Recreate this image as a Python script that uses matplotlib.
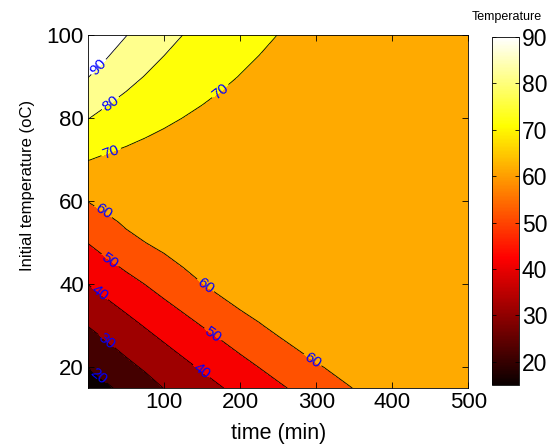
import matplotlib
matplotlib.use("Agg")
import matplotlib.pyplot as plt
import numpy as np

plt.rcParams['font.family'] = ['Liberation Sans', 'DejaVu Sans']

# time axis (min) and initial temperature axis (oC)
times = [0, 25, 50, 75, 100, 125, 150, 175, 200, 225, 250, 300, 350, 400, 450, 500]
init_temps = [15, 20, 30, 40, 50, 55, 60, 70, 80, 90, 100]

# temperature, one row per initial temperature
temp_15 = [15.0, 18.8, 22.6, 26.4, 30.2, 33.4, 36.5, 39.6, 42.6, 45.6, 48.6, 54.5, 60.3, 66.0, 68.0, 68.0]
temp_20 = [20.1, 23.9, 27.7, 31.1, 34.5, 37.8, 41.0, 44.0, 47.1, 50.1, 53.1, 59.0, 64.0, 68.0, 68.0, 68.0]
temp_30 = [30.2, 33.7, 37.1, 40.5, 43.8, 47.0, 50.2, 53.2, 56.3, 59.3, 62.3, 68.0, 68.0, 68.0, 68.0, 68.0]
temp_40 = [40.1, 43.5, 46.8, 50.1, 53.4, 56.6, 59.8, 62.9, 66.0, 68.0, 68.0, 68.0, 68.0, 68.0, 68.0, 68.0]
temp_50 = [50.2, 53.9, 57.5, 59.9, 62.3, 65.0, 68.0, 68.0, 68.0, 68.0, 68.0, 68.0, 68.0, 68.0, 68.0, 68.0]
temp_55 = [55.1, 58.2, 61.3, 64.0, 67.0, 68.0, 68.0, 68.0, 68.0, 68.0, 68.0, 68.0, 68.0, 68.0, 68.0, 68.0]
temp_60 = [60.2, 63.0, 66.0, 68.0, 68.0, 68.0, 68.0, 68.0, 68.0, 68.0, 68.0, 68.0, 68.0, 68.0, 68.0, 68.0]
temp_70 = [70.2, 68.7, 67.6, 66.6, 65.7, 65.0, 64.3, 63.8, 63.3, 62.8, 62.5, 61.9, 61.4, 61.1, 60.8, 60.6]
temp_80 = [80.2, 77.4, 75.1, 73.1, 71.4, 69.9, 68.6, 67.5, 66.5, 65.7, 64.9, 63.7, 62.8, 62.1, 61.6, 61.2]
temp_90 = [90.2, 86.1, 82.7, 79.7, 77.1, 74.9, 73.0, 71.3, 69.8, 68.5, 67.4, 65.6, 64.2, 63.2, 62.4, 61.8]
temp_100 = [100.0, 94.8, 90.2, 86.3, 82.8, 79.9, 77.3, 75.0, 73.0, 71.4, 69.9, 67.4, 65.6, 64.2, 63.2, 62.4]

line_levels = [20, 30, 40, 50, 60, 70, 80, 90]
cbar_ticks = [20, 30, 40, 50, 60, 70, 80, 90]

# where the contour labels sit
label_pos = [(18, 91.6), (33, 82.7), (178, 85.5), (32, 71), (18, 57),
             (158, 40.7), (295, 21.7), (27, 45.3), (165, 28.2), (13, 37.3),
             (150, 19.3), (22, 25.8), (12, 17.4)]

temps = np.array([temp_15, temp_20, temp_30, temp_40, temp_50, temp_55,
                  temp_60, temp_70, temp_80, temp_90, temp_100])

norm = matplotlib.colors.Normalize(vmin=15, vmax=90)
cmap = plt.cm.hot
fill_levels = [0] + line_levels + [200]
# matlab style: each band takes the colour just above its lower level
band_shift = 1.5
fill_colors = [cmap(norm(15))] + [cmap(norm(l + band_shift)) for l in line_levels]

fig = plt.figure(figsize=(5.51, 4.45), dpi=100)
ax = fig.add_axes([0.16, 0.128, 0.69, 0.793])

ax.contourf(times, init_temps, temps, levels=fill_levels, colors=fill_colors)
cs = ax.contour(times, init_temps, temps, levels=line_levels, colors='k', linewidths=0.6)
ax.clabel(cs, manual=label_pos, colors='blue', fontsize=11, fmt='%d', inline=True, inline_spacing=2)

ax.set_xlim(0, 500)
ax.set_ylim(15, 100)
ax.set_xticks([100, 200, 300, 400, 500])
ax.set_yticks([20, 40, 60, 80, 100])
ax.tick_params(direction='in', top=True, right=True, labelsize=16, length=4, width=0.6, pad=3)
ax.set_xlabel("time (min)", fontsize=15.5)
ax.set_ylabel("Initial temperature (oC)", fontsize=12)
ax.xaxis.set_label_coords(0.5, -0.098)
ax.xaxis.label.set_va('top')
ax.yaxis.set_label_coords(-0.14, 0.575)
for s in ax.spines.values():
    s.set_linewidth(0.6)

cax = fig.add_axes([0.893, 0.135, 0.049, 0.782])
sm = matplotlib.cm.ScalarMappable(norm=norm, cmap=cmap)
cb = fig.colorbar(sm, cax=cax, ticks=cbar_ticks)
cb.outline.set_linewidth(0.6)
cax.tick_params(direction='in', left=True, right=True, labelsize=16.5, length=3, width=0.6, pad=2)
fig.text(0.92, 0.948, "Temperature", fontsize=9, ha='center', va='bottom')

fig.savefig("out.png", dpi=100)
